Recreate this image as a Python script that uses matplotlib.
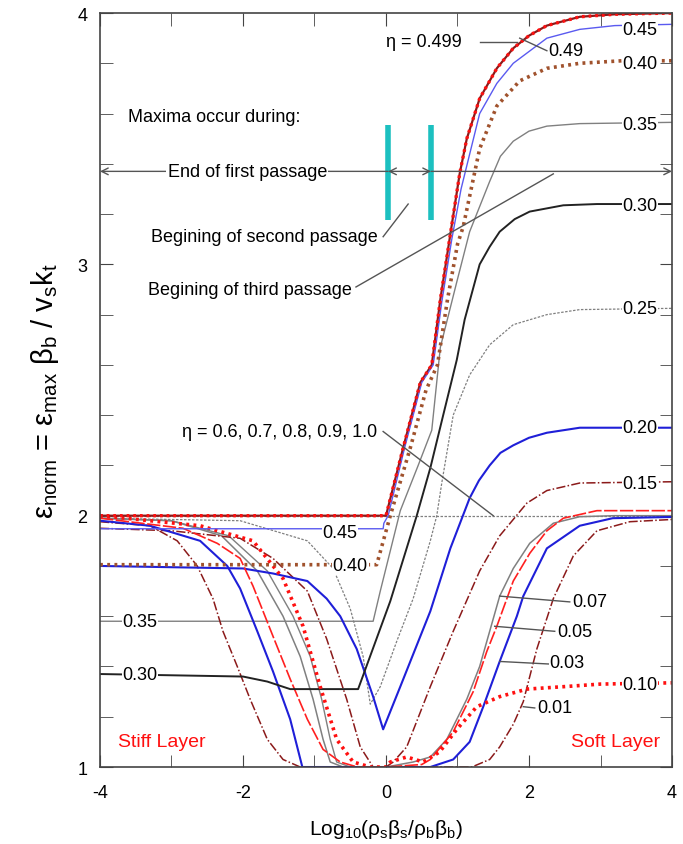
import numpy as np
import matplotlib
matplotlib.use('Agg')
import matplotlib.pyplot as plt
from matplotlib.ticker import MultipleLocator

plt.rcParams['font.family'] = ['Liberation Sans', 'DejaVu Sans']
plt.rcParams['mathtext.fontset'] = 'custom'
plt.rcParams['mathtext.rm'] = 'Liberation Sans'
plt.rcParams['mathtext.it'] = 'Liberation Sans:italic'
plt.rcParams['axes.unicode_minus'] = False

# curves: x = log10 ratio, y = normalised strain
x_499 = [-4, -0.02, 0.0, 0.24, 0.48, 0.64, 0.76, 0.90, 1.03, 1.13, 1.31, 1.55, 1.78, 2.0, 2.25, 2.71, 3.2, 4]
y_499 = [2.0, 2.0, 2.0, 2.27, 2.53, 2.60, 2.86, 3.12, 3.36, 3.50, 3.66, 3.78, 3.86, 3.91, 3.95, 3.985, 3.995, 4.0]

x_45 = [-4, -0.04, -0.03, 0.03, 0.26, 0.50, 0.66, 0.78, 0.92, 1.05, 1.31, 1.55, 1.78, 2.25, 2.71, 3.2, 4]
y_45 = [1.948, 1.948, 1.97, 2.0, 2.27, 2.53, 2.60, 2.85, 3.10, 3.30, 3.60, 3.72, 3.80, 3.90, 3.935, 3.95, 3.955]

x_40 = [-4, -0.13, 0.06, 0.34, 0.56, 0.72, 0.86, 1.0, 1.08, 1.31, 1.55, 1.87, 2.25, 2.71, 3.3, 4]
y_40 = [1.805, 1.805, 2.0, 2.27, 2.50, 2.60, 2.86, 3.08, 3.15, 3.46, 3.63, 3.73, 3.78, 3.80, 3.81, 3.81]

x_35 = [-4, -0.18, -0.08, 0.20, 0.45, 0.64, 0.76, 0.99, 1.17, 1.45, 1.60, 1.78, 2.0, 2.25, 2.71, 4]
y_35 = [1.58, 1.58, 1.70, 2.02, 2.20, 2.34, 2.67, 2.93, 3.13, 3.33, 3.43, 3.49, 3.53, 3.55, 3.56, 3.565]

x_30 = [-4, -2.0, -1.66, -1.34, -0.39, 0.06, 0.43, 0.62, 0.80, 0.99, 1.10, 1.31, 1.45, 1.59, 1.80, 2.01, 2.48, 2.95, 4]
y_30 = [1.37, 1.36, 1.34, 1.31, 1.31, 1.66, 2.0, 2.19, 2.40, 2.62, 2.78, 3.0, 3.07, 3.13, 3.18, 3.21, 3.235, 3.24, 3.24]

x_25 = [-4, -2.04, -1.10, -0.74, -0.50, -0.32, -0.22, -0.08, 0.15, 0.38, 0.62, 0.71, 0.78, 0.94, 1.17, 1.45, 1.78, 2.25, 2.71, 4]
y_25 = [1.99, 1.98, 1.90, 1.79, 1.63, 1.44, 1.25, 1.32, 1.50, 1.67, 1.90, 2.0, 2.13, 2.40, 2.56, 2.68, 2.76, 2.80, 2.82, 2.825]

x_20 = [-4, -2.0, -1.58, -1.10, -0.83, -0.64, -0.41, -0.18, -0.04, 0.20, 0.62, 0.90, 1.17, 1.30, 1.45, 1.60, 1.78, 2.0, 2.25, 2.71, 4]
y_20 = [1.80, 1.79, 1.77, 1.74, 1.67, 1.60, 1.47, 1.28, 1.15, 1.32, 1.62, 1.87, 2.07, 2.14, 2.20, 2.25, 2.28, 2.31, 2.33, 2.35, 2.35]

x_15 = [-4, -3.0, -2.04, -1.58, -1.10, -0.83, -0.55, -0.36, -0.18, 0.0, 0.10, 0.29, 0.62, 0.94, 1.31, 1.59, 1.97, 2.25, 2.71, 4]
y_15 = [1.95, 1.94, 1.91, 1.83, 1.70, 1.51, 1.27, 1.08, 1.0, 1.0, 1.02, 1.08, 1.32, 1.54, 1.78, 1.92, 2.05, 2.10, 2.13, 2.135]

x_10 = [-4, -2.6, -1.86, -1.44, -1.16, -0.92, -0.69, -0.46, -0.22, 0.0, 0.06, 0.29, 0.52, 0.75, 0.99, 1.27, 1.59, 1.97, 2.5, 3.0, 4]
y_10 = [2.0, 1.96, 1.90, 1.75, 1.56, 1.32, 1.11, 1.02, 1.0, 1.0, 1.02, 1.04, 1.02, 1.06, 1.15, 1.24, 1.28, 1.31, 1.32, 1.33, 1.335]

x_07 = [-4, -3.0, -2.3, -1.80, -1.44, -1.20, -1.02, -0.88, -0.78, -0.6, 0.0, 0.38, 0.62, 0.85, 1.13, 1.31, 1.50, 1.59, 1.78, 2.01, 2.34, 2.71, 3.2, 4]
y_07 = [1.99, 1.98, 1.92, 1.78, 1.60, 1.44, 1.27, 1.11, 1.02, 1.0, 1.0, 1.02, 1.04, 1.11, 1.27, 1.40, 1.59, 1.68, 1.79, 1.89, 1.97, 1.996, 2.0, 2.0]

x_07b = [-4, -3.0, -2.2, -1.66, -1.30, -1.06, -0.90, -0.78, -0.69, -0.5, 0.0]
y_07b = [1.99, 1.98, 1.92, 1.78, 1.60, 1.44, 1.27, 1.11, 1.02, 1.0, 1.0]

x_05 = [-4, -2.84, -2.36, -2.04, -1.86, -1.58, -1.34, -1.10, -0.88, -0.64, -0.4, 0.0, 0.5, 0.62, 0.94, 1.22, 1.41, 1.55, 1.78, 2.01, 2.25, 2.48, 2.95, 4]
y_05 = [1.99, 1.95, 1.89, 1.83, 1.72, 1.52, 1.35, 1.19, 1.07, 1.02, 1.0, 1.0, 1.01, 1.03, 1.14, 1.30, 1.46, 1.56, 1.74, 1.85, 1.94, 1.99, 2.02, 2.02]

x_03 = [-4, -3.3, -2.6, -2.22, -2.04, -1.80, -1.58, -1.34, -1.17, 0.0, 0.62, 0.94, 1.17, 1.36, 1.59, 1.83, 1.92, 2.25, 2.71, 3.17, 4]
y_03 = [1.98, 1.96, 1.90, 1.80, 1.71, 1.54, 1.38, 1.19, 1.0, 1.0, 1.0, 1.03, 1.10, 1.24, 1.42, 1.60, 1.68, 1.87, 1.96, 1.99, 1.995]

x_01 = [-4, -3.3, -2.92, -2.64, -2.42, -2.28, -2.08, -1.90, -1.66, -1.44, -1.2, 0.0, 1.2, 1.45, 1.59, 1.78, 1.92, 2.11, 2.34, 2.62, 2.95, 3.41, 4]
y_01 = [1.976, 1.96, 1.90, 1.80, 1.67, 1.54, 1.40, 1.27, 1.11, 1.03, 1.0, 1.0, 1.0, 1.03, 1.08, 1.17, 1.26, 1.47, 1.67, 1.84, 1.94, 1.976, 1.985]

x_hi = [-4, 4]
y_hi = [2.0, 2.0]

# inline labels on the right and left
right_labels = ['0.45', '0.40', '0.35', '0.30', '0.25', '0.20', '0.15', '0.10']
right_label_y = [3.935, 3.80, 3.555, 3.235, 2.825, 2.35, 2.13, 1.33]
left_labels = ['0.45', '0.40', '0.35', '0.30']
left_label_x = [-0.64, -0.50, -3.44, -3.44]
left_label_y = [1.935, 1.80, 1.58, 1.37]

fig = plt.figure(figsize=(6.83, 8.45), dpi=100)
ax = fig.add_axes([0.1464, 0.0911, 0.8375, 0.8923])

gray = '#808080'
darkred = '#8B1A1A'
blue = '#1F1FD8'

ax.plot(x_hi, y_hi, color=gray, lw=0.9, ls=(0, (2, 1.2)))
ax.plot(x_25, y_25, color=gray, lw=0.9, ls=(0, (2, 1.2)))
ax.plot(x_07b, y_07b, color=gray, lw=1.0)
ax.plot(x_07, y_07, color=gray, lw=1.1)
ax.plot(x_35, y_35, color=gray, lw=1.0)
ax.plot(x_01, y_01, color=darkred, lw=1.1, ls=(0, (6, 1.5, 1, 1.5)))
ax.plot(x_15, y_15, color=darkred, lw=1.1, ls=(0, (6, 1.5, 1, 1.5)))
ax.plot(x_03, y_03, color=blue, lw=1.5)
ax.plot(x_20, y_20, color=blue, lw=1.5)
ax.plot(x_05, y_05, color='#FF2020', lw=1.2, ls=(0, (8, 1.5)))
ax.plot(x_30, y_30, color='#222222', lw=1.4)
ax.plot(x_10, y_10, color='#FF1010', lw=2.6, ls=(0, (0.8, 1.2)))
ax.plot(x_40, y_40, color='#A0522D', lw=2.6, ls=(0, (0.8, 1.2)))
ax.plot(x_499, y_499, color=darkred, lw=1.6)
ax.plot(x_45, y_45, color='#5A5AF0', lw=1.0)
ax.plot(x_499, y_499, color='#FF1010', lw=2.4, ls=(0, (0.8, 1.2)))

lab = dict(fontsize=13, ha='center', va='center', zorder=10,
           bbox=dict(fc='white', ec='none', pad=0.5))
for t, yv in zip(right_labels, right_label_y):
    ax.text(3.55, yv, t, **lab)
for t, xv, yv in zip(left_labels, left_label_x, left_label_y):
    ax.text(xv, yv, t, **lab)

lc = '#555555'
# leader labels at the bottom right
ax.plot([1.59, 2.57], [1.68, 1.657], color=lc, lw=1, zorder=11)
ax.text(2.60, 1.657, '0.07', fontsize=13, va='center', zorder=11)
ax.plot([1.52, 2.36], [1.56, 1.54], color=lc, lw=1, zorder=11)
ax.text(2.40, 1.54, '0.05', fontsize=13, va='center', zorder=11)
ax.plot([1.59, 2.27], [1.42, 1.41], color=lc, lw=1, zorder=11)
ax.text(2.29, 1.415, '0.03', fontsize=13, va='center', zorder=11)
ax.plot([1.92, 2.08], [1.24, 1.235], color=lc, lw=1, zorder=11)
ax.text(2.11, 1.235, '0.01', fontsize=13, va='center', zorder=11)

# top annotations
ax.text(0.0, 3.885, 'η = 0.499', fontsize=13, va='center')
ax.plot([1.31, 1.83], [3.885, 3.885], color=lc, lw=1)
ax.plot([1.87, 2.25], [3.90, 3.85], color=lc, lw=1)
ax.text(2.27, 3.85, '0.49', fontsize=13, va='center', zorder=11,
        bbox=dict(fc='white', ec='none', pad=0.5))

ax.text(-0.13, 2.335, 'η = 0.6, 0.7, 0.8, 0.9, 1.0', fontsize=13, ha='right', va='center')
ax.plot([-0.04, 1.50], [2.335, 2.0], color=lc, lw=1)

ax.text(-3.61, 3.59, 'Maxima occur during:', fontsize=13, va='center')
ya = 3.37
arr = dict(arrowstyle='->', color=lc, lw=1, shrinkA=0, shrinkB=0, mutation_scale=12)
ax.annotate('', xy=(-4, ya), xytext=(0.03, ya), arrowprops=arr, annotation_clip=False)
ax.annotate('', xy=(4, ya), xytext=(0.63, ya), arrowprops=arr, annotation_clip=False)
ax.annotate('', xy=(0.03, ya), xytext=(0.63, ya),
            arrowprops=dict(arrowstyle='<->', color=lc, lw=1, shrinkA=0, shrinkB=0, mutation_scale=12))
ax.text(-1.94, ya, 'End of first passage', fontsize=13, ha='center', va='center',
        bbox=dict(fc='white', ec='none', pad=1))
ax.plot([0.03, 0.03], [3.175, 3.554], color='#1CC0C0', lw=4, solid_capstyle='butt')
ax.plot([0.63, 0.63], [3.175, 3.554], color='#1CC0C0', lw=4, solid_capstyle='butt')

ax.text(-0.11, 3.11, 'Begining of second passage', fontsize=13, ha='right', va='center')
ax.plot([-0.04, 0.31], [3.11, 3.24], color=lc, lw=1)
ax.text(-0.48, 2.90, 'Begining of third passage', fontsize=13, ha='right', va='center')
ax.plot([-0.42, 2.34], [2.91, 3.36], color=lc, lw=1)

ax.text(-3.75, 1.10, 'Stiff Layer', fontsize=14, color='#FF1010', va='center')
ax.text(3.83, 1.10, 'Soft Layer', fontsize=14, color='#FF1010', ha='right', va='center')

ax.set_xlim(-4, 4)
ax.set_ylim(1, 4)
ax.xaxis.set_major_locator(MultipleLocator(2))
ax.xaxis.set_minor_locator(MultipleLocator(1))
ax.yaxis.set_major_locator(MultipleLocator(1))
ax.yaxis.set_minor_locator(MultipleLocator(0.2))
ax.tick_params(which='both', direction='in', top=True, right=True, labelsize=13, color='#444444')
ax.tick_params(which='major', length=9)
ax.tick_params(which='minor', length=9)
ax.tick_params(axis='x', which='major', pad=12)
ax.tick_params(axis='y', which='major', pad=9)
for s in ax.spines.values():
    s.set_color('#444444')
    s.set_linewidth(1.2)

ax.set_xlabel('Log$_{10}$(ρ$_{\\rm s}$β$_{\\rm s}$/ρ$_{\\rm b}$β$_{\\rm b}$)', fontsize=15, labelpad=12)
ax.set_ylabel('ε$_{\\rm norm}$ = ε$_{\\rm max}$ β$_{\\rm b}$ / v$_{\\rm s}$k$_{\\rm t}$', fontsize=21, labelpad=12)

fig.savefig('out.png', dpi=100)
